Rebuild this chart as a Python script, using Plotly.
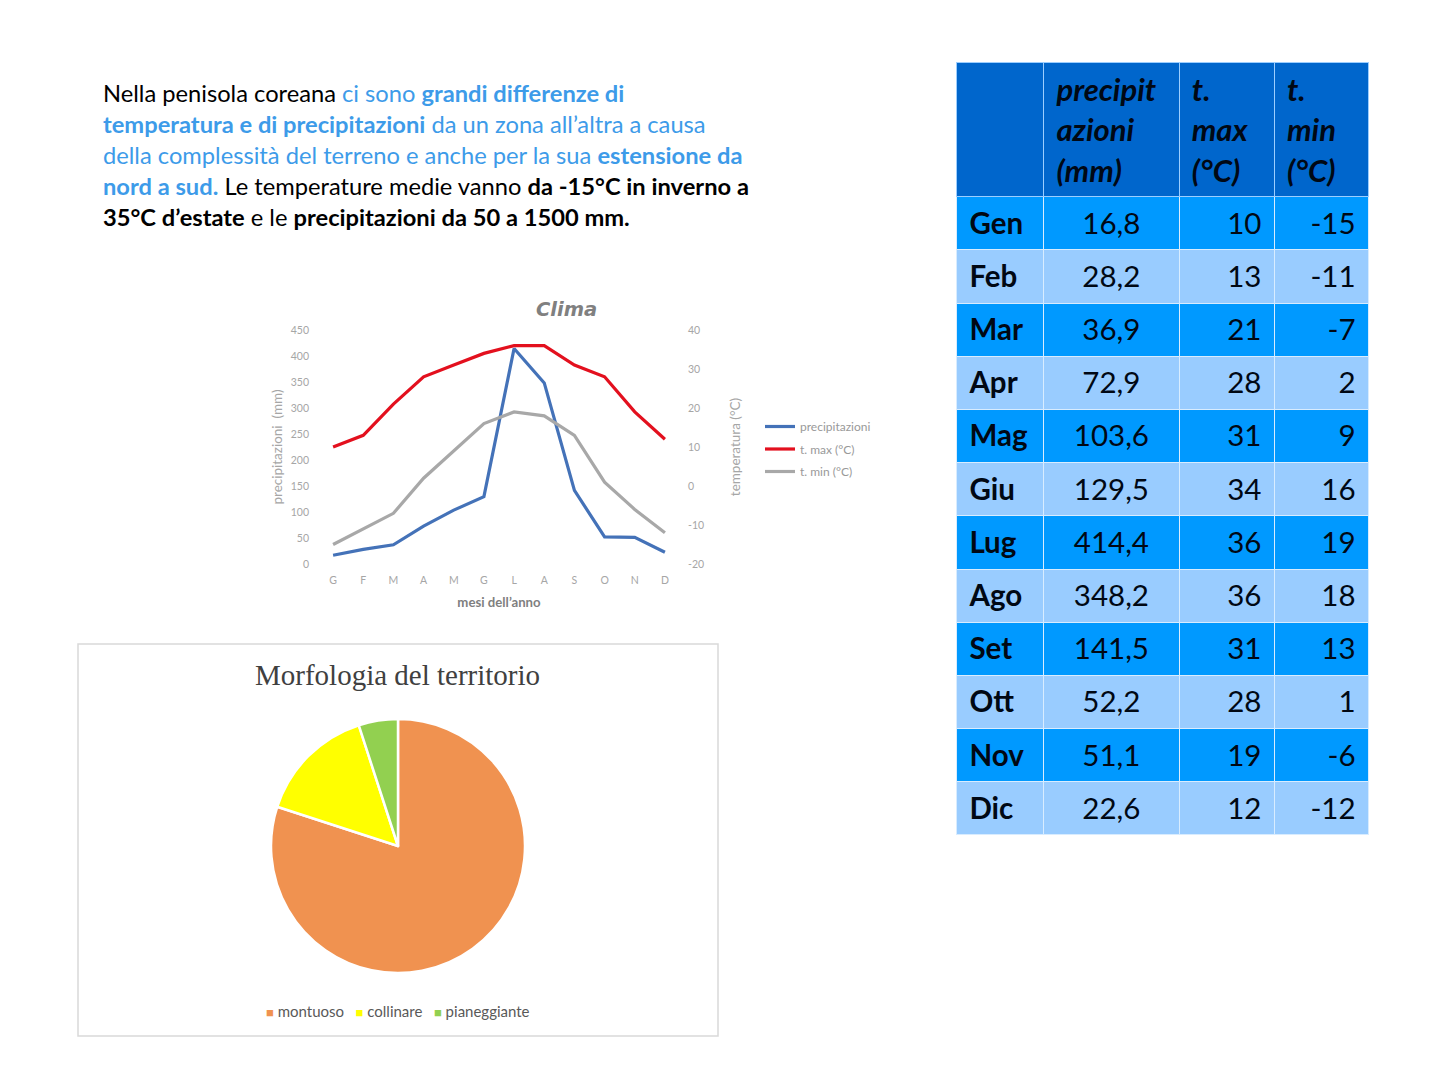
import plotly.graph_objects as go

W = 1441
H = 1080

mesi = ['Gen', 'Feb', 'Mar', 'Apr', 'Mag', 'Giu', 'Lug', 'Ago', 'Set', 'Ott', 'Nov', 'Dic']
iniziali = ['G', 'F', 'M', 'A', 'M', 'G', 'L', 'A', 'S', 'O', 'N', 'D']
precipitazioni = [16.8, 28.2, 36.9, 72.9, 103.6, 129.5, 414.4, 348.2, 141.5, 52.2, 51.1, 22.6]
t_max = [10, 13, 21, 28, 31, 34, 36, 36, 31, 28, 19, 12]
t_min = [-15, -11, -7, 2, 9, 16, 19, 18, 13, 1, -6, -12]
tick_temp = [-20, -10, 0, 10, 20, 30, 40]

morfologia = ['montuoso', 'collinare', 'pianeggiante']
quote = [80, 15, 5]
colori_torta = ['#F09250', '#FFFF00', '#92D050']

BLU = '#3D9BE9'
testo = [
    "Nella penisola coreana <span style='color:%s'>ci sono <b>grandi differenze di</b></span>" % BLU,
    "<span style='color:%s'><b>temperatura e di precipitazioni</b> da un zona all’altra a causa</span>" % BLU,
    "<span style='color:%s'>della complessità del terreno e anche per la sua <b>estensione da</b></span>" % BLU,
    "<span style='color:%s'><b>nord a sud.</b></span> Le temperature medie vanno <b>da -15°C in inverno a</b>" % BLU,
    "<b>35°C d’estate</b> e le <b>precipitazioni da 50 a 1500 mm.</b>",
]


def px_x(v):
    return v / W


def px_y(v):
    return 1 - v / H


fig = go.Figure()

fig.add_trace(go.Scatter(x=mesi, y=precipitazioni, name='precipitazioni', mode='lines',
                         line=dict(color='#4472B8', width=3.2), yaxis='y', legendgroup='a'))
fig.add_trace(go.Scatter(x=mesi, y=t_max, name='t. max (°C)', mode='lines',
                         line=dict(color='#E3101E', width=3.2), yaxis='y2', legendgroup='b'))
fig.add_trace(go.Scatter(x=mesi, y=t_min, name='t. min (°C)', mode='lines',
                         line=dict(color='#A8A8A8', width=3.2), yaxis='y2', legendgroup='c'))

fig.add_trace(go.Pie(labels=morfologia, values=quote, sort=False, direction='clockwise', rotation=0,
                     textinfo='none', marker=dict(colors=colori_torta, line=dict(color='white', width=2.5)),
                     domain=dict(x=[px_x(271), px_x(525)], y=[px_y(973), px_y(719)]),
                     showlegend=False))

# tabella
SP = '\u2006'
righe = [['<b>%s%s</b>' % (SP, m) for m in mesi],
         ['<span>%s</span>' % ('%.1f' % v).replace('.', ',') for v in precipitazioni],
         ['<span>%s%s</span>' % (v, SP) for v in t_max],
         ['<span>%s%s</span>' % (v, SP) for v in t_min]]
fill_righe = ['#0099FF' if i % 2 == 0 else '#99CCFF' for i in range(12)]
fig.add_trace(go.Table(
    domain=dict(x=[px_x(956.5), px_x(1369)], y=[px_y(836), px_y(62)]),
    columnwidth=[87, 135, 95, 94],
    header=dict(values=['', '<b><i>{0}precipit<br>{0}azioni<br>{0}(mm)</i></b>'.format(SP),
                        '<b><i>{0}t.<br>{0}max<br>{0}(°C)</i></b>'.format(SP),
                        '<b><i>{0}t.<br>{0}min<br>{0}(°C)</i></b>'.format(SP)],
                fill_color='#0066CC', line_color='#9CCEFF', align='left', height=133,
                font=dict(family='Lato', size=31, color='#000814')),
    cells=dict(values=righe, fill_color=[fill_righe], line_color='#D8ECFF',
               align=['left', 'center', 'right', 'right'], height=53.2,
               font=dict(family='Lato', size=29.5, color='#000814')),
))

annotazioni = []
for i, riga in enumerate(testo):
    annotazioni.append(dict(text=riga, xref='paper', yref='paper', x=px_x(101), y=px_y(93 + i * 31),
                            xanchor='left', yanchor='middle', showarrow=False, align='left',
                            font=dict(family='Lato', size=23.7, color='#000000')))
annotazioni.append(dict(text='<b><i>Clima</i></b>', xref='paper', yref='paper', x=px_x(566), y=px_y(309),
                        xanchor='center', yanchor='middle', showarrow=False,
                        font=dict(family='DejaVu Sans', size=19.5, color='#808080')))
annotazioni.append(dict(text='Morfologia del territorio', xref='paper', yref='paper', x=px_x(397), y=px_y(675),
                        xanchor='center', yanchor='middle', showarrow=False,
                        font=dict(family='Liberation Serif', size=29, color='#404040')))

# legenda della torta, piu compatta di quella di plotly
voci = []
for nome, col in zip(morfologia, colori_torta):
    voci.append("<span style='color:%s;font-size:13px'>■</span>\u00a0%s" % (col, nome))
annotazioni.append(dict(text='\u00a0\u00a0\u00a0'.join(voci), xref='paper', yref='paper', x=px_x(398), y=px_y(1011),
                        xanchor='center', yanchor='middle', showarrow=False,
                        font=dict(family='Lato', size=15, color='#595959')))

fig.update_layout(
    width=W, height=H, margin=dict(l=0, r=0, t=0, b=0, autoexpand=False),
    paper_bgcolor='white', plot_bgcolor='white',
    xaxis=dict(domain=[px_x(318), px_x(680)], range=[-0.5, 11.5], tickmode='array', tickvals=mesi,
               ticktext=iniziali, showgrid=False, zeroline=False, showline=False, ticklen=0,
               ticklabelstandoff=8, anchor='y', tickfont=dict(family='Lato', size=10.5, color='#A6A6A6'),
               title=dict(text='<b>mesi dell’anno</b>', standoff=13,
                          font=dict(family='Lato', size=13.2, color='#7F7F7F'))),
    yaxis=dict(domain=[px_y(564), px_y(330)], range=[0, 450], dtick=50, showgrid=False, zeroline=False,
               showline=False, ticks='', ticklabelstandoff=8,
               tickfont=dict(family='Lato', size=10.5, color='#A6A6A6'),
               title=dict(text='precipitazioni  (mm)', standoff=4,
                          font=dict(family='Lato', size=13.5, color='#A6A6A6'))),
    yaxis2=dict(domain=[px_y(564), px_y(330)], range=[-20, 40], tickmode='array', tickvals=tick_temp,
                ticktext=[str(v) for v in tick_temp], overlaying='y', side='right', anchor='x',
                showgrid=False, zeroline=False, showline=False, ticks='', ticklabelstandoff=7,
                tickfont=dict(family='Lato', size=10.5, color='#A6A6A6'),
                title=dict(text='temperatura (°C)', standoff=27,
                           font=dict(family='Lato', size=13.5, color='#A6A6A6'))),
    legend=dict(x=px_x(760), y=px_y(412), xanchor='left', yanchor='top', tracegroupgap=3.5,
                font=dict(family='Lato', size=12, color='#999999'), bgcolor='rgba(0,0,0,0)'),
    annotations=annotazioni,
    shapes=[dict(type='rect', xref='paper', yref='paper', x0=px_x(78), x1=px_x(718), y0=px_y(644), y1=px_y(1036),
                 line=dict(color='#D9D9D9', width=1.5), fillcolor='rgba(0,0,0,0)')],
)

fig.write_html("out.html", config={'displayModeBar': False}, post_script="document.body.style.margin='0';")
